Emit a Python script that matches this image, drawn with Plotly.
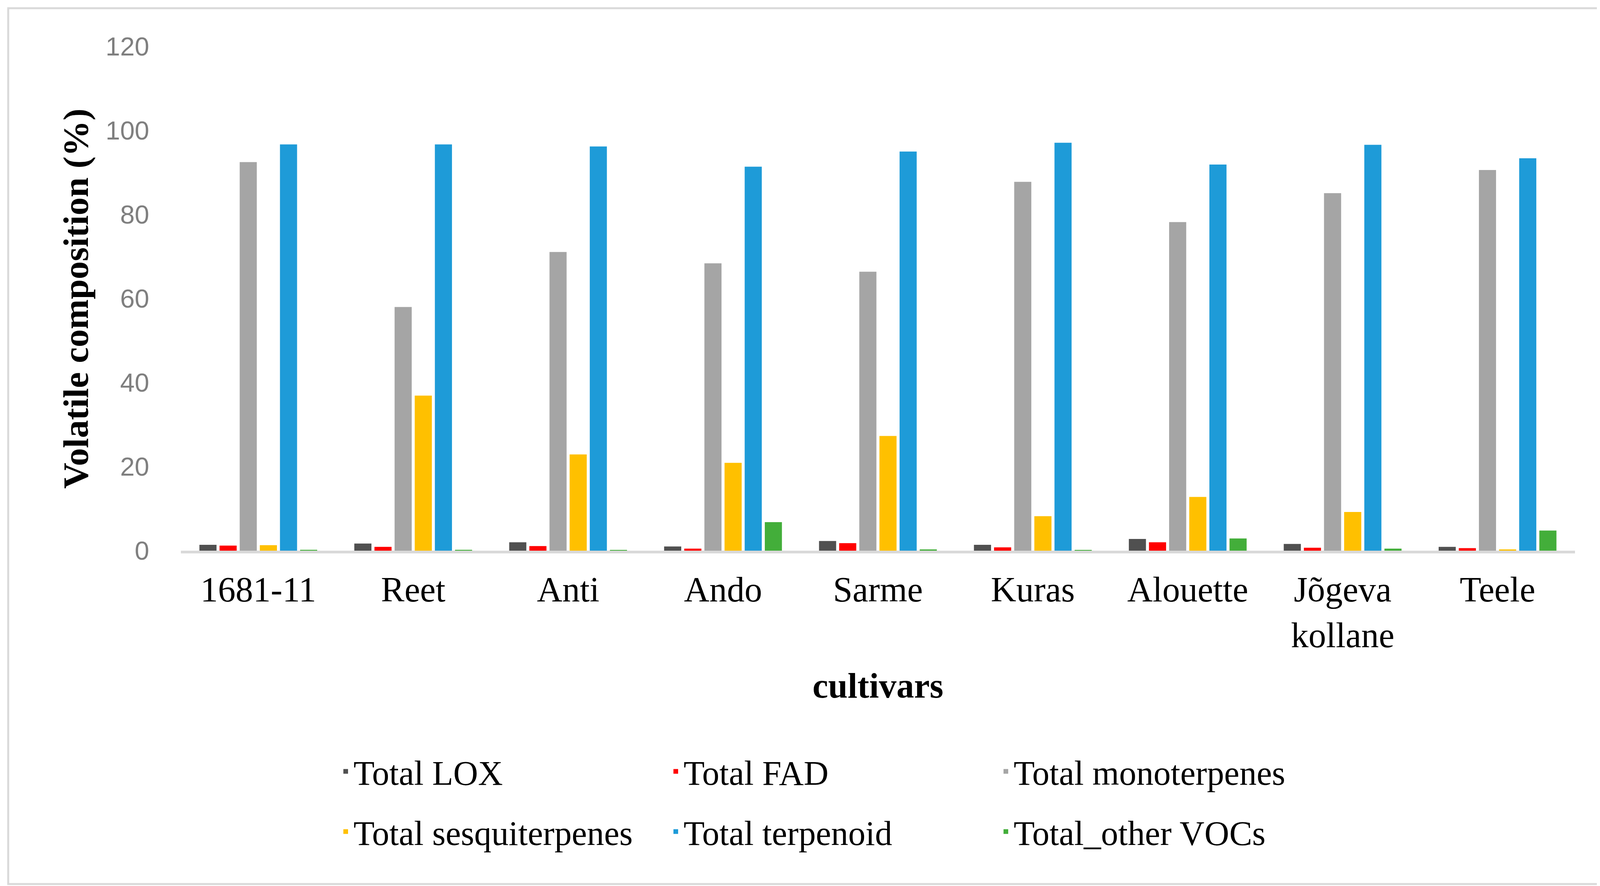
import plotly.graph_objects as go

cultivars = ["1681-11", "Reet", "Anti", "Ando", "Sarme", "Kuras", "Alouette", "Jõgeva<br>kollane", "Teele"]
total_lox = [1.4, 1.7, 2.0, 1.0, 2.3, 1.4, 2.8, 1.6, 0.9]
total_fad = [1.2, 0.9, 1.1, 0.5, 1.8, 0.8, 2.0, 0.7, 0.6]
total_mono = [92.5, 58.0, 71.1, 68.4, 66.4, 87.8, 78.2, 85.1, 90.6]
total_sesqui = [1.3, 36.9, 22.9, 20.9, 27.3, 8.2, 12.8, 9.2, 0.3]
total_terp = [96.7, 96.7, 96.2, 91.4, 95.0, 97.1, 91.9, 96.6, 93.4]
total_other = [0.2, 0.2, 0.1, 6.8, 0.3, 0.1, 2.9, 0.5, 4.8]

series = [
    ("Total LOX", total_lox, "#505050", "legend"),
    ("Total FAD", total_fad, "#ff0000", "legend"),
    ("Total monoterpenes", total_mono, "#a5a5a5", "legend"),
    ("Total sesquiterpenes", total_sesqui, "#ffc000", "legend2"),
    ("Total terpenoid", total_terp, "#1e9bd8", "legend2"),
    ("Total_other VOCs", total_other, "#43ae3a", "legend2"),
]

W, H = 4146, 2267
ML, MR, MT, MB = 455, 122, 111, 866
PW, PH = W - ML - MR, H - MT - MB

fig = go.Figure()
for name, vals, col, lg in series:
    fig.add_trace(go.Bar(x=cultivars, y=vals, name=name, marker_color=col,
                         marker_line_width=0, legend=lg))

serif = "Liberation Serif, Times New Roman, serif"
legend_common = dict(orientation="h", xanchor="left", yanchor="middle",
                     font=dict(family=serif, size=88, color="#000000"),
                     entrywidth=800, bgcolor="rgba(0,0,0,0)", itemclick=False,
                     tracegroupgap=0)

fig.update_layout(
    width=W, height=H,
    margin=dict(l=ML, r=MR, t=MT, b=MB),
    paper_bgcolor="white", plot_bgcolor="white",
    barmode="group", bargap=0.22, bargroupgap=0.15,
    showlegend=True,
    legend=dict(x=(857 - ML) / PW, y=(MT + PH - 1966) / PH, **legend_common),
    legend2=dict(x=(857 - ML) / PW, y=(MT + PH - 2120) / PH, **legend_common),
    xaxis=dict(
        type="category",
        showline=True, linecolor="#d9d9d9", linewidth=7,
        showgrid=False, ticks="", ticklabelstandoff=15,
        tickfont=dict(family=serif, size=90, color="#000000"),
        title=dict(text="<b>cultivars</b>", font=dict(family=serif, size=90, color="#000000"),
                   standoff=50),
    ),
    yaxis=dict(
        range=[0, 120], dtick=20, showline=False, showgrid=False, zeroline=False,
        ticks="", ticklabelstandoff=80,
        tickfont=dict(family="Liberation Sans, Arial, sans-serif", size=67, color="#7f7f7f"),
        title=dict(text="<b>Volatile composition (%)</b>",
                   font=dict(family=serif, size=92, color="#000000"), standoff=14),
    ),
    shapes=[dict(type="rect", xref="paper", yref="paper",
                 x0=(13 - ML) / PW, x1=(4133 - ML) / PW,
                 y0=(MT + PH - 2254) / PH, y1=(MT + PH - 13) / PH,
                 line=dict(color="#d9d9d9", width=5), fillcolor="rgba(0,0,0,0)")],
)

fig.write_html("out.html")
